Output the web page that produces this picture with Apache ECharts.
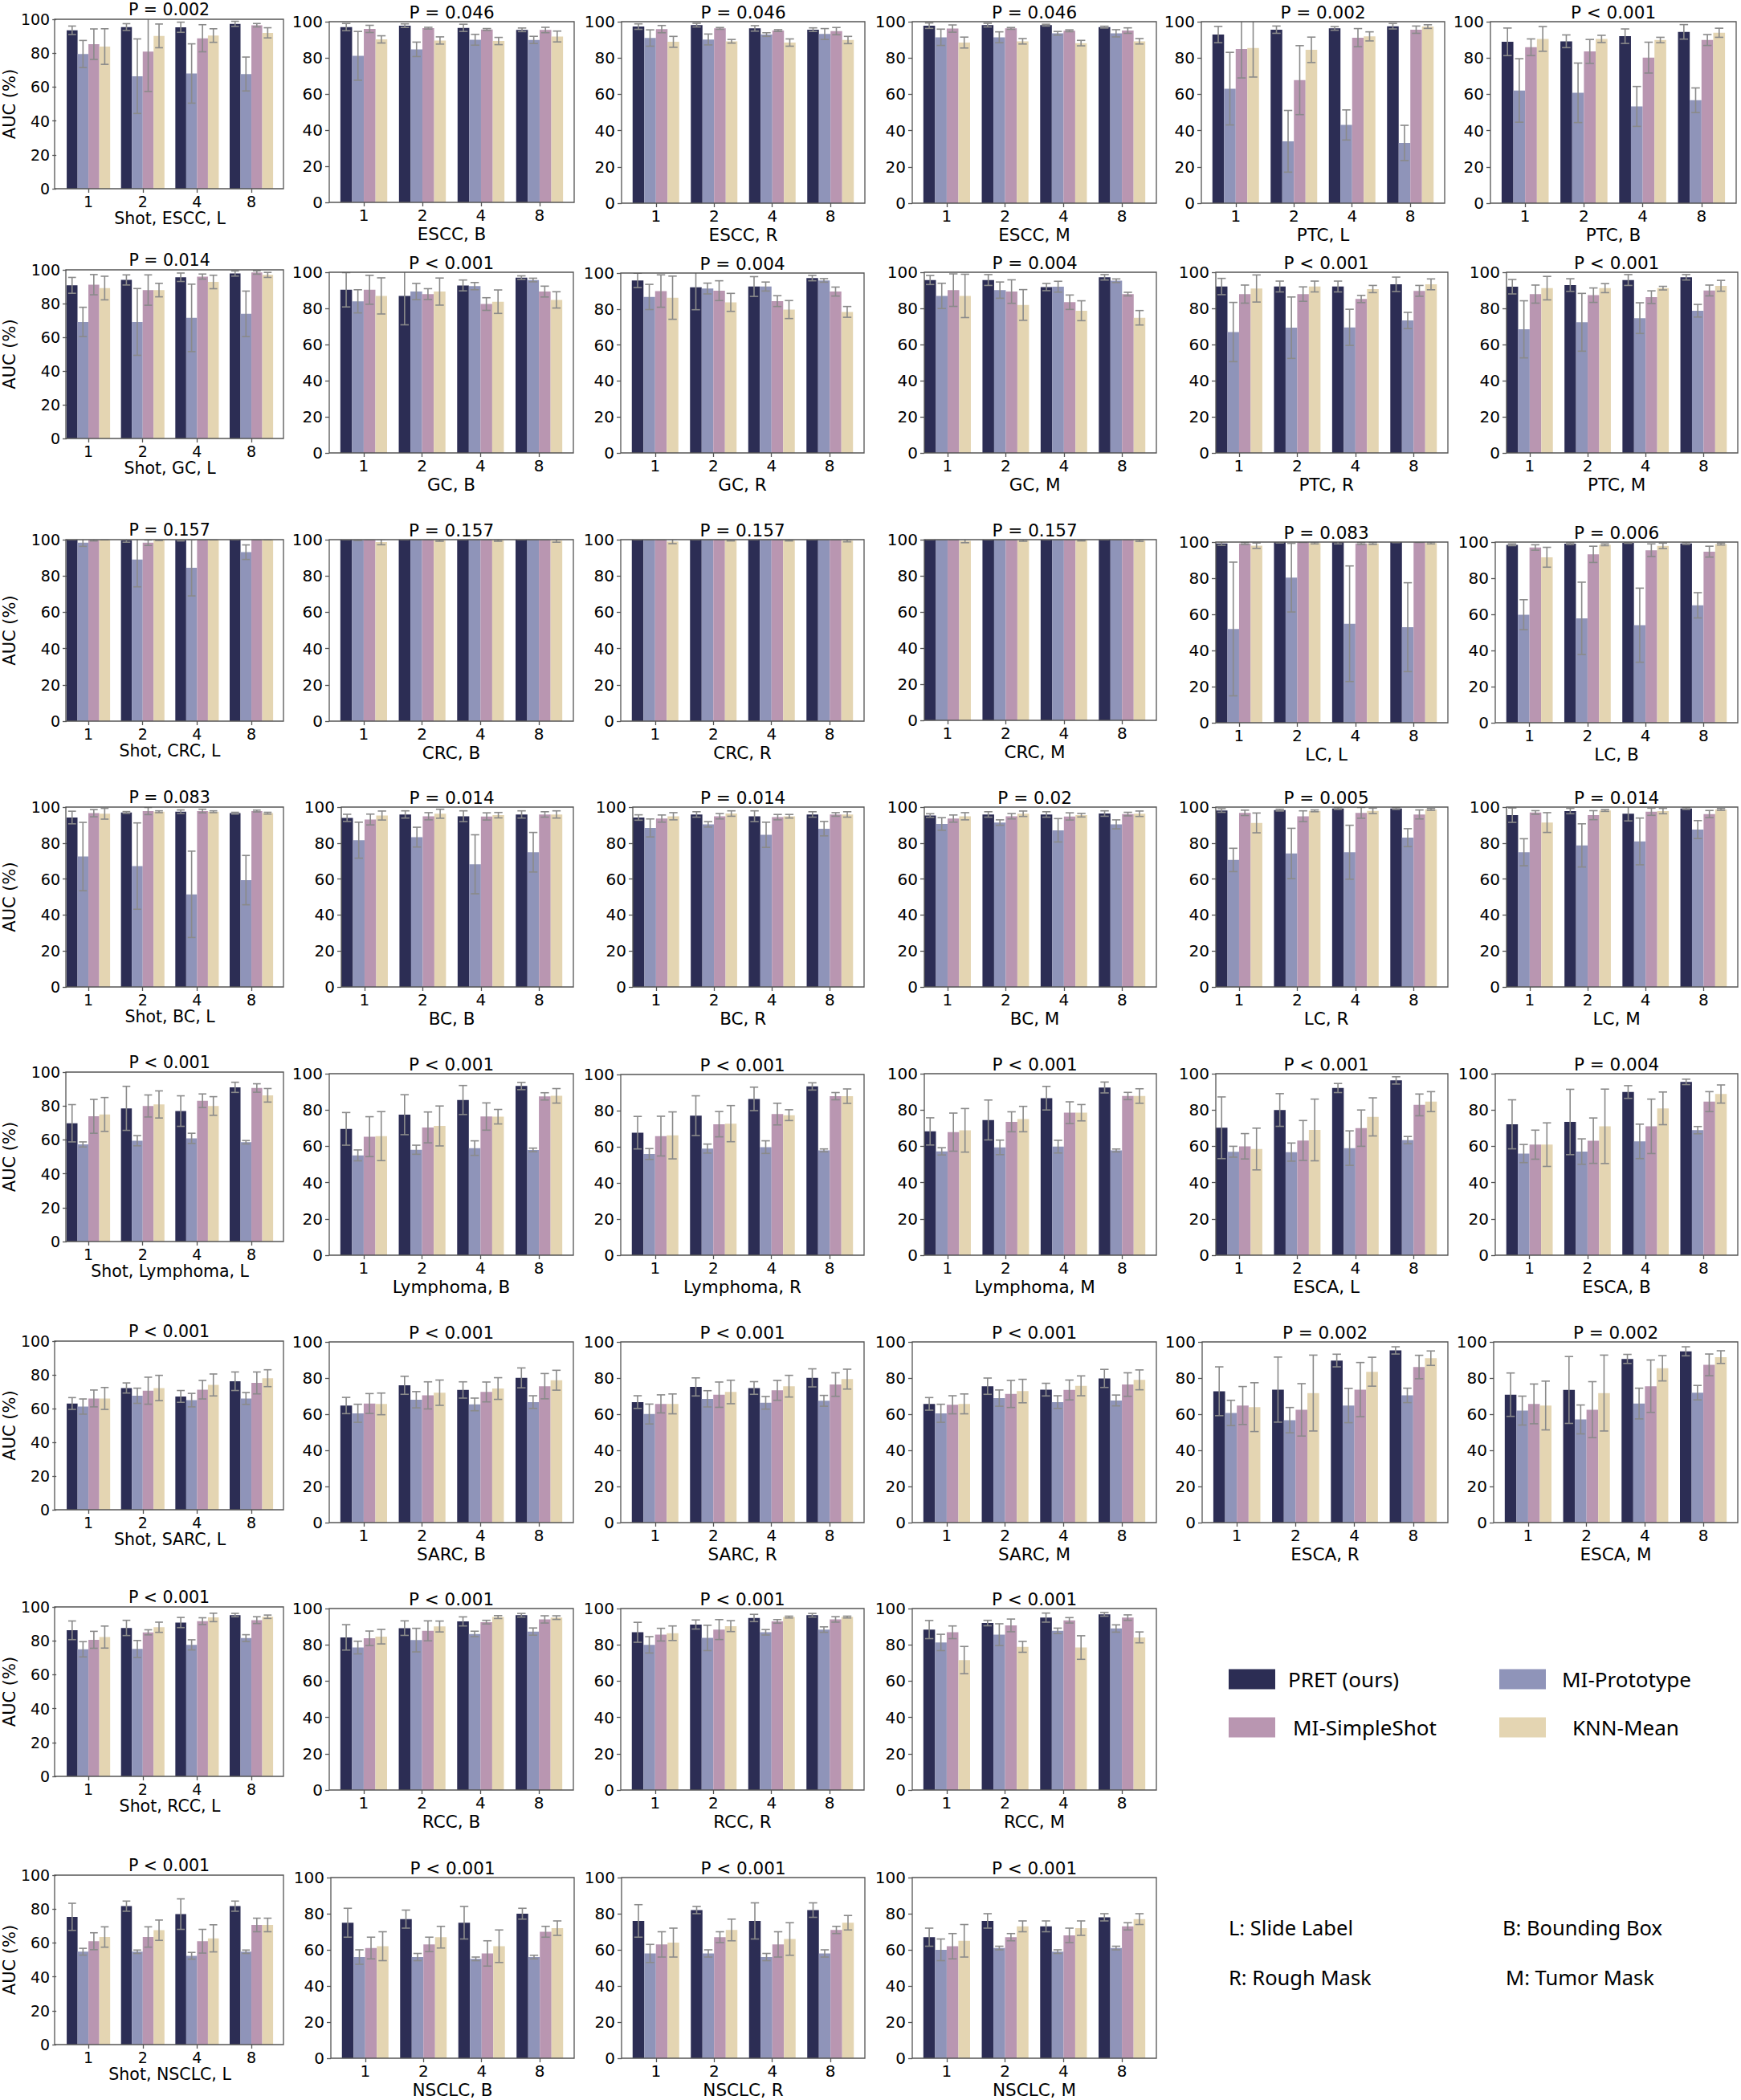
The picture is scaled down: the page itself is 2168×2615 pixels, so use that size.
<!DOCTYPE html>
<html><head><meta charset="utf-8">
<script src="https://cdn.jsdelivr.net/npm/echarts@6/dist/echarts.min.js"></script>
<style>html,body{margin:0;padding:0;background:#fff}#c{width:2168px;height:2615px}</style>
</head><body><div id="c"></div><script>
// ---------- categories / series names ----------
const shots = ['1', '2', '4', '8'];
const methods = ['PRET (ours)', 'MI-Prototype', 'MI-SimpleShot', 'KNN-Mean'];
// ---------- values: rows = methods (PRET, MI-Prototype, MI-SimpleShot, KNN-Mean), cols = shots ----------
const ESCC_L_mean = [[93.5,95.4,95.3,97.3],[79.5,66.4,68,67.7],[85.3,80.9,88.8,96.5],[83.9,90.2,90.4,92]];
const ESCC_L_sd   = [[2.5,2,3,1.5],[8,22,17.5,10],[9,23.5,8,1],[10.5,7,4,3]];
const ESCC_B_mean = [[97,97.8,96.6,95.5],[81.1,84.7,90,89.9],[96,96.4,95.7,95.4],[90.2,89.6,89.3,91.8]];
const ESCC_B_sd   = [[2,1,2,1],[13.5,4,3,2],[2,0.5,0.5,1.5],[2,2,2,3]];
const ESCC_R_mean = [[97.3,98.1,96.3,95.6],[91,90.2,92.9,93.2],[95.9,96.3,95.1,94.8],[88.9,89.2,88.5,89.9]];
const ESCC_R_sd   = [[1.5,1,1.5,1],[4.5,3,1,3],[2,0.5,0.5,2],[3,1,2,2]];
const ESCC_M_mean = [[97.8,98.1,98.1,97],[91.4,91.4,93.6,93.6],[96.2,96.3,95,95.1],[88.5,89.2,88.2,89.2]];
const ESCC_M_sd   = [[1.5,1,0.5,0.5],[4.5,3,1,2],[2,0.5,0.5,1.5],[3,1.5,1.5,1.5]];
const PTC_L_mean  = [[92.9,95.6,96.3,97.5],[63.1,34.1,43.1,33.2],[85,67.8,91.2,95.6],[85.5,84.5,91.9,97.3]];
const PTC_L_sd    = [[4.5,2,1,1.5],[20,17,8.3,9.7],[16,19,5,2],[16,7,2.5,1]];
const PTC_B_mean  = [[88.9,89.2,92,94.4],[62.1,60.8,53.3,56.7],[85.9,83.6,80.2,89.9],[90.5,90.5,89.9,93.9]];
const PTC_B_sd    = [[7.6,3.5,4,4],[17.5,16.4,11,6.8],[4.6,6.6,8.5,3],[6.8,2,1.5,2.5]];
const GC_L_mean   = [[90.8,94,95.6,97.8],[69.1,69.1,71.5,73.9],[91.2,88,96,98.4],[89.2,88,92.8,97]];
const GC_L_sd     = [[4.7,3,2.5,1.5],[8.7,19.8,20,13.5],[6,9,1.5,1],[7,4,4,1.5]];
const GC_B_mean   = [[90.3,86.9,92.7,97],[83.9,89.3,92.3,95.7],[90.3,87.9,82.4,89.3],[86.9,89.3,83.7,84.7]];
const GC_B_sd     = [[9.5,16,3,1],[6.4,4.5,2,1],[8,3,3.5,3],[10,7.5,6.5,4.5]];
const GC_R_mean   = [[95.9,92.1,92.5,97.2],[86.7,91.4,92.5,95.9],[90,90.2,84.4,89.7],[86.3,83.7,79.7,78.4]];
const GC_R_sd     = [[4,12.5,5.5,1.5],[7,3,2.5,1],[9,5.5,3,2.5],[12,5,5,3]];
const GC_M_mean   = [[95.7,95.7,91.8,97.2],[86.9,90.1,92,95.3],[90.1,89.3,83.4,87.9],[86.9,81.9,78.7,74.8]];
const GC_M_sd     = [[2.5,3,2,1.5],[7,4.5,3,1],[9,6.5,4,1],[12,8.5,5.5,4]];
const PTC_R_mean  = [[92.1,92.1,92.1,93.3],[66.9,69.3,69.5,73.3],[87.9,87.9,85.2,89.7],[91,92.1,90.7,93.3]];
const PTC_R_sd    = [[4.5,3,3,4],[16.4,17,10,4.5],[5,4,2,3],[7.5,3,2,3]];
const PTC_M_mean  = [[92,92.9,95.7,97.2],[68.4,72.3,74.6,78.7],[87.9,87.3,86.2,89.9],[91.2,91.2,91.2,92.5]];
const PTC_M_sd    = [[4,3.5,3,1.5],[15.8,16,8.5,3.5],[5,4,3.5,3],[6.5,2.5,1,3]];
const CRC_L_mean  = [[100,99.6,99.8,100],[98.3,89,84.5,93.1],[99.8,98.3,100,100],[100,100,100,100]];
const CRC_L_sd    = [[0,1,0.5,0],[2,15,15.5,4],[0.5,1.5,0,0],[0,0.5,0,0]];
const CRC_B_mean  = [[100,100,100,100],[99.8,100,100,100],[100,100,100,100],[98.7,99.6,99.6,99.4]];
const CRC_B_sd    = [[0,0,0,0],[0.3,0,0,0],[0,0,0,0],[1.5,0.5,0.5,0.8]];
const CRC_R_mean  = [[100,100,100,100],[100,100,100,100],[100,100,100,100],[99,99.7,99.7,99.4]];
const CRC_R_sd    = [[0,0,0,0],[0,0,0,0],[0,0,0,0],[1.2,0.4,0.4,0.6]];
const CRC_M_mean  = [[100,100,100,100],[100,100,100,100],[100,100,100,100],[99.3,99.6,99.7,99.5]];
const CRC_M_sd    = [[0,0,0,0],[0,0,0,0],[0,0,0,0],[1,0.5,0.4,0.5]];
const LC_L_mean   = [[99.2,100,100,100],[51.9,80.3,54.8,52.9],[99.2,100,99.2,100],[98,99.5,99.2,99.5]];
const LC_L_sd     = [[1,0.5,1,0.3],[37,19,32,24.6],[0.5,0.2,0.5,0.2],[1.5,0.5,0.5,0.5]];
const LC_B_mean   = [[98.5,99.1,99.6,99.2],[59.8,57.8,54,65],[97,93.2,95.5,94.7],[91.6,98.5,97.9,98.9]];
const LC_B_sd     = [[0.5,0.5,0.3,0.5],[8.3,20,20.5,7],[1.5,4.5,3.5,3],[5.5,0.5,1.5,0.5]];
const BC_L_mean   = [[94.2,97,97.4,96.6],[72.5,67.2,51.5,59.4],[96.6,97.8,97.8,97.8],[96.3,97.4,97.4,96.6]];
const BC_L_sd     = [[3.5,0.5,1,0.5],[19,24,24,13.7],[2,2,1,0.5],[3,0.5,0.5,0.5]];
const BC_B_mean   = [[94,95.9,94.9,95.9],[81.6,83.3,68.2,74.9],[93.1,94.9,94.8,95.9],[95.3,96.3,95.5,95.9]];
const BC_B_sd     = [[2,2,3,2],[10,5.5,16.4,11],[3,2,2,1.5],[2.5,2.5,1.5,2]];
const BC_R_mean   = [[94.2,95.9,94.9,95.9],[88.4,90.4,84.6,88],[93.6,94.9,94.4,95.9],[94.9,96.4,94.9,95.9]];
const BC_R_sd     = [[1.5,1.5,3,1.5],[5,1.5,7,4],[2,1.5,1.5,1],[2,1.5,1,1.5]];
const BC_M_mean   = [[95.3,95.9,95.9,96.4],[90.6,91.4,87.1,90.4],[93.6,94.9,94.8,96.1],[94.9,96.3,95.5,96.3]];
const BC_M_sd     = [[1,1.5,1.5,1.5],[3.5,1.5,6.5,2.5],[2,1.5,2,1],[2,1.5,1,1.5]];
const LC_R_mean   = [[98.1,98.3,99.2,99.2],[70.6,74.2,74.9,83],[96.8,94.9,96.8,95.9],[91.2,97.9,97.9,98.7]];
const LC_R_sd     = [[1,0.5,0.5,0.5],[6.5,14,15,5],[1.5,3,3,2.5],[5.5,0.5,1.5,0.5]];
const LC_M_mean   = [[95.5,97.8,96.3,99.2],[74.9,78.7,80.9,87.5],[97,95.5,97.4,96.1],[91.4,98.1,97.8,98.7]];
const LC_M_sd     = [[4,1.5,4,0.5],[7.5,12,13,5],[1,2.5,2,2],[5.5,0.5,1.5,0.5]];
const LYM_L_mean  = [[69.8,78.6,77,91],[57.3,59.5,60.9,58.6],[73.9,80,83.1,90.6],[75,80.9,80,86.3]];
const LYM_L_sd    = [[11,13,9,3],[1.5,3,3,1],[10,6.5,4,2.5],[10,8,5.5,4]];
const LYM_B_mean  = [[69.6,77.4,85.5,93.2],[55,58.1,59,58],[65.3,70.4,76.4,87.5],[65.6,71.2,76.3,87.8]];
const LYM_B_sd    = [[9,11,8,2],[3,2.5,4,1],[11,8.5,7.5,2],[13.5,11,4,4]];
const LYM_R_mean  = [[67.8,77.2,86.5,93.4],[56,59,59.8,58],[65.9,72.5,78.1,88],[66.3,72.8,77.5,88]];
const LYM_R_sd    = [[9,11,6.5,2],[3,2.5,3.5,0.8],[11,7,6,2],[13,10,3,4]];
const LYM_M_mean  = [[68.2,74.5,86.5,92.4],[57.2,59.4,59.8,57.7],[67.8,73.5,78.5,87.7],[68.8,75,78.5,87.7]];
const LYM_M_sd    = [[7.5,11,6.5,3],[2,4,3.5,0.8],[10.5,5.5,6,2],[12,7,4.5,4]];
const ESCA_L_mean = [[70.2,80,92.1,96.3],[57,56.8,59,63.4],[60,63.2,70,82.8],[58.5,69,76.2,84.6]];
const ESCA_L_sd   = [[17,9,2.5,2],[3,5,9.5,2],[7,11,10,6],[11.5,17,10.5,5.5]];
const ESCA_B_mean = [[72.1,73.4,89.9,95.5],[56,57.1,62.7,68.9],[60.9,63.1,71,84.6],[60.9,71,80.9,88.8]];
const ESCA_B_sd   = [[13.5,18,3.5,1.5],[5,7,9.5,2],[8,12.5,15,5.5],[12,20.5,9,5]];
const SARC_L_mean = [[63,72.2,67.2,76.2],[61.2,67.6,65,66],[66,70.6,71.2,75.2],[66,72.2,74,78]];
const SARC_L_sd   = [[3.5,3,3.5,5.5],[4.5,4.5,4,3.5],[5,8,5.5,6.5],[6.5,7.5,6.5,5]];
const SARC_B_mean = [[64.8,76,73.4,80.1],[60.5,68,65.4,66.7],[65.9,70.4,72.3,75.5],[65.7,71.9,74.2,78.8]];
const SARC_B_sd   = [[4.5,5,4.5,5.5],[5,4.5,3.5,3.5],[5.5,7.5,5.5,7],[6,7,6,5.5]];
const SARC_R_mean = [[66.7,75.1,74.5,80.1],[60.1,68.5,66.3,67.4],[65.7,70.8,73.2,76.4],[65.7,72.3,75.5,79.4]];
const SARC_R_sd   = [[3.5,5,3.5,5],[5.5,4.5,3.5,3],[5,7,5.5,6.5],[5.5,6.5,6,5.5]];
const SARC_M_mean = [[65.7,75.5,73.6,79.8],[60.5,68.9,66.7,67.6],[65.2,71.2,73.4,76.4],[65.7,72.8,75.7,79]];
const SARC_M_sd   = [[3.5,4.5,3.5,5],[5,4.5,3.5,3],[5,7.5,5.5,6.5],[5.5,6.5,5.5,5.5]];
const ESCA_R_mean = [[72.7,73.6,89.7,95.3],[60.7,56.7,64.8,70.4],[64.8,62.4,73.6,86.1],[63.9,71.7,83.5,91]];
const ESCA_R_sd   = [[13.5,18,3.5,2],[7,7,9.5,4],[10.5,14.5,15,6.5],[13.5,21,8,4]];
const ESCA_M_mean = [[70.8,73.4,90.6,94.8],[62,57.1,65.9,71.9],[65.7,62.5,75.5,87.3],[64.8,71.7,85.4,91.6]];
const ESCA_M_sd   = [[12,18.5,2.5,2.5],[8,8,8.5,4],[11,15.5,14.5,6],[13.5,21,7,3.5]];
const RCC_L_mean  = [[86.2,87.6,90.8,95.2],[75,75.2,77.6,81.6],[80.6,85,91.6,92.2],[82.2,88,93.8,94.2]];
const RCC_L_sd    = [[5.5,4.5,3,1],[4.5,5,3,2],[5,1.5,2,2],[6.5,3,2.5,1]];
const RCC_B_mean  = [[84.1,89.2,92.9,96.3],[78.5,82.6,86,87.3],[83.6,87.7,92.5,94],[84.5,90.1,95.3,95]];
const RCC_B_sd    = [[7,4,2.5,1],[3.5,6.5,1.5,2],[4,5.5,1,2],[4,3,0.8,1]];
const RCC_R_mean  = [[86.9,91.2,94.8,96.3],[80,83.8,86.9,88.4],[85.6,88.4,92.9,94],[86.4,90.3,95.3,95.3]];
const RCC_R_sd    = [[5.5,2.5,2,1],[4.5,7,1.5,1.5],[3.5,5.5,1,1.5],[4,3,0.5,0.5]];
const RCC_M_mean  = [[88.4,92,95,96.8],[81.3,85.6,87.7,89],[86.9,90.7,93.5,95],[71.6,78.9,78.5,84.1]];
const RCC_M_sd    = [[5,1.5,2.5,1],[4.5,6,1.5,2],[3.5,3.5,1.5,1.5],[7.5,3,6.5,3]];
const NSCLC_L_mean = [[75.4,81.7,77,81.7],[54.8,54.8,52.4,54.8],[61,63.5,61,70.6],[63.5,67.5,62.7,70.6]];
const NSCLC_L_sd   = [[8,3,9,3],[2,1,2,1],[5,6,7,4],[6,6,8,4]];
const NSCLC_B_mean = [[75,77,75,80],[56,56,55,56],[61,63,58,70],[62,67,62,72]];
const NSCLC_B_sd   = [[8,5,9,3],[4,2,1,1],[6,4,7,3],[8,6,9,4]];
const NSCLC_R_mean = [[76,82,76,82],[58,58,56,58],[63,67,63,71],[64,71,66,75]];
const NSCLC_R_sd   = [[9,2,10,4],[5,2,2,2],[7,3,7,2],[8,6,9,4]];
const NSCLC_M_mean = [[67,76,73,78],[60,61,59,61],[62,67,68,73],[65,73,72,77]];
const NSCLC_M_sd   = [[5,4,3,2],[6,1,1,1],[7,2,4,2],[9,3,4,3]];

// ---------- panel texts (x-axis label, P value) ----------
const panelLabels = [
  'Shot, ESCC, L','ESCC, B','ESCC, R','ESCC, M','PTC, L','PTC, B',
  'Shot, GC, L','GC, B','GC, R','GC, M','PTC, R','PTC, M',
  'Shot, CRC, L','CRC, B','CRC, R','CRC, M','LC, L','LC, B',
  'Shot, BC, L','BC, B','BC, R','BC, M','LC, R','LC, M',
  'Shot, Lymphoma, L','Lymphoma, B','Lymphoma, R','Lymphoma, M','ESCA, L','ESCA, B',
  'Shot, SARC, L','SARC, B','SARC, R','SARC, M','ESCA, R','ESCA, M',
  'Shot, RCC, L','RCC, B','RCC, R','RCC, M',
  'Shot, NSCLC, L','NSCLC, B','NSCLC, R','NSCLC, M'
];
const pTexts = [
  'P = 0.002','P = 0.046','P = 0.046','P = 0.046','P = 0.002','P < 0.001',
  'P = 0.014','P < 0.001','P = 0.004','P = 0.004','P < 0.001','P < 0.001',
  'P = 0.157','P = 0.157','P = 0.157','P = 0.157','P = 0.083','P = 0.006',
  'P = 0.083','P = 0.014','P = 0.014','P = 0.02','P = 0.005','P = 0.014',
  'P < 0.001','P < 0.001','P < 0.001','P < 0.001','P < 0.001','P = 0.004',
  'P < 0.001','P < 0.001','P < 0.001','P < 0.001','P = 0.002','P = 0.002',
  'P < 0.001','P < 0.001','P < 0.001','P < 0.001',
  'P < 0.001','P < 0.001','P < 0.001','P < 0.001'
];
const panelMeans = [ESCC_L_mean,ESCC_B_mean,ESCC_R_mean,ESCC_M_mean,PTC_L_mean,PTC_B_mean,
  GC_L_mean,GC_B_mean,GC_R_mean,GC_M_mean,PTC_R_mean,PTC_M_mean,
  CRC_L_mean,CRC_B_mean,CRC_R_mean,CRC_M_mean,LC_L_mean,LC_B_mean,
  BC_L_mean,BC_B_mean,BC_R_mean,BC_M_mean,LC_R_mean,LC_M_mean,
  LYM_L_mean,LYM_B_mean,LYM_R_mean,LYM_M_mean,ESCA_L_mean,ESCA_B_mean,
  SARC_L_mean,SARC_B_mean,SARC_R_mean,SARC_M_mean,ESCA_R_mean,ESCA_M_mean,
  RCC_L_mean,RCC_B_mean,RCC_R_mean,RCC_M_mean,
  NSCLC_L_mean,NSCLC_B_mean,NSCLC_R_mean,NSCLC_M_mean];
const panelSds = [ESCC_L_sd,ESCC_B_sd,ESCC_R_sd,ESCC_M_sd,PTC_L_sd,PTC_B_sd,
  GC_L_sd,GC_B_sd,GC_R_sd,GC_M_sd,PTC_R_sd,PTC_M_sd,
  CRC_L_sd,CRC_B_sd,CRC_R_sd,CRC_M_sd,LC_L_sd,LC_B_sd,
  BC_L_sd,BC_B_sd,BC_R_sd,BC_M_sd,LC_R_sd,LC_M_sd,
  LYM_L_sd,LYM_B_sd,LYM_R_sd,LYM_M_sd,ESCA_L_sd,ESCA_B_sd,
  SARC_L_sd,SARC_B_sd,SARC_R_sd,SARC_M_sd,ESCA_R_sd,ESCA_M_sd,
  RCC_L_sd,RCC_B_sd,RCC_R_sd,RCC_M_sd,
  NSCLC_L_sd,NSCLC_B_sd,NSCLC_R_sd,NSCLC_M_sd];
const legendNotes = ['L: Slide Label','B: Bounding Box','R: Rough Mask','M: Tumor Mask'];

// ---------- layout (frame boxes: left, top, right, bottom in px) ----------
const boxes = [
 [68,24,353,235],[410,27,715,252],[774,27,1077,253],[1136,27,1440,253],[1496,27,1799,253],[1856,27,2162,253],
 [82,336,353,546],[410,339,714,564],[773,340,1076,564],[1151,339,1440,564],[1514,339,1803,564],[1876,339,2164,564],
 [82,672,353,898],[410,672,714,898],[773,672,1076,898],[1151,672,1440,897],[1514,675,1803,900],[1862,675,2164,900],
 [82,1005,353,1229],[425,1005,714,1229],[788,1005,1076,1229],[1151,1005,1440,1229],[1514,1005,1803,1229],[1876,1005,2164,1229],
 [82,1335,353,1546],[410,1337,714,1563],[773,1338,1076,1563],[1151,1337,1440,1563],[1514,1337,1803,1563],[1862,1337,2164,1563],
 [68,1670,353,1880],[410,1671,714,1896],[773,1671,1076,1896],[1136,1671,1440,1896],[1497,1671,1803,1896],[1860,1671,2164,1896],
 [68,2001,353,2212],[410,2003,714,2229],[773,2003,1076,2229],[1136,2003,1440,2229],
 [68,2335,353,2546],[412,2338,715,2563],[774,2338,1077,2563],[1136,2338,1440,2563]
];
// panels whose left margin is cut off in the original figure
const croppedLeft = [6,9,10,11,12,15,16,18,19,20,21,22,23,24,27,28];
const firstCol = [0,6,12,18,24,30,36,40];
const methodColors = ['#2c2d54','#8f94b9','#b996b1','#e4d5b2'];
const axisColor = '#555555';
const FONT = '"DejaVu Sans", sans-serif';

function errRender(params, api) {
  const c = api.value(0), m = api.value(1), mean = api.value(2), e = api.value(3);
  const band = api.size([1, 0])[0];
  const bw = band * 0.8 / 4;
  const base = api.coord([c, mean]);
  const x = base[0] - band * 0.4 + (m + 0.5) * bw;
  const yHi = api.coord([c, mean + e])[1];
  const yLo = api.coord([c, mean - e])[1];
  const cw = bw * 0.36;
  const st = { stroke: '#8a8a8a', lineWidth: 1.6 };
  return { type: 'group', children: [
    { type: 'line', shape: { x1: x, y1: yHi, x2: x, y2: yLo }, style: st },
    { type: 'line', shape: { x1: x - cw, y1: yHi, x2: x + cw, y2: yHi }, style: st },
    { type: 'line', shape: { x1: x - cw, y1: yLo, x2: x + cw, y2: yLo }, style: st }
  ]};
}

const grids = [], xAxes = [], yAxes = [], series = [], graphics = [];
panelLabels.forEach((label, i) => {
  const [l, t, r, b] = boxes[i];
  const first = firstCol.includes(i);
  const tick = first ? 19 : 20;
  const nameSize = first ? 20.5 : 21.5;
  // matplotlib-like x limits in category units
  const xlim = croppedLeft.includes(i) ? [-0.4, 3.59] : [-0.59, 3.59];
  const unit = (r - l) / (xlim[1] - xlim[0]);
  const gl = l + (-0.5 - xlim[0]) * unit;
  const gw = 4 * unit;
  grids.push({ left: gl, top: t, width: gw, height: b - t, show: false });
  xAxes.push({ gridIndex: i, type: 'category', data: shots, boundaryGap: true,
    axisLine: { show: false },
    axisTick: { show: true, alignWithLabel: true, length: 5, lineStyle: { color: axisColor, width: 1.3 } },
    axisLabel: { color: '#000', fontSize: tick, fontFamily: FONT, margin: 6 },
    name: label, nameLocation: 'middle', nameGap: first ? 26 : 28,
    nameTextStyle: { color: '#000', fontSize: nameSize, fontFamily: FONT } });
  yAxes.push({ gridIndex: i, type: 'value', min: 0, max: 100, interval: 20, offset: gl - l,
    axisLine: { show: false },
    axisTick: { show: true, length: 5, lineStyle: { color: axisColor, width: 1.3 } },
    splitLine: { show: false },
    axisLabel: { color: '#000', fontSize: tick, fontFamily: FONT, margin: 8 },
    name: first ? 'AUC (%)' : '', nameLocation: 'middle', nameGap: l - 21,
    nameTextStyle: { color: '#000', fontSize: 21, fontFamily: FONT } });
  const means = panelMeans[i], sds = panelSds[i];
  methods.forEach((m, k) => {
    series.push({ type: 'bar', name: m, xAxisIndex: i, yAxisIndex: i, data: means[k],
      itemStyle: { color: methodColors[k] }, barGap: '0%', barCategoryGap: '20%', silent: true });
  });
  const errData = [];
  for (let k = 0; k < 4; k++) for (let c = 0; c < 4; c++) errData.push([c, k, means[k][c], sds[k][c]]);
  series.push({ type: 'custom', xAxisIndex: i, yAxisIndex: i, clip: true, silent: true, z: 5,
    data: errData, encode: { x: 0, y: 2 }, renderItem: errRender });
  // axes frame (all four spines)
  graphics.push({ type: 'rect', silent: true, z: 50,
    shape: { x: l, y: t, width: r - l, height: b - t },
    style: { fill: 'none', stroke: axisColor, lineWidth: 1.3 } });
  graphics.push({ type: 'text', x: gl + gw / 2, y: t - 12, silent: true,
    style: { text: pTexts[i], fill: '#000', font: `${nameSize}px ${FONT}`,
      textAlign: 'center', textVerticalAlign: 'middle', align: 'center', verticalAlign: 'middle' } });
});

const notePos = [[1530, 2400], [1871, 2400], [1530, 2462], [1875, 2462]];
legendNotes.forEach((txt, k) => {
  graphics.push({ type: 'text', x: notePos[k][0], y: notePos[k][1], silent: true,
    style: { text: txt, fill: '#000', font: '25.5px "Noto Sans", sans-serif',
      textAlign: 'left', textVerticalAlign: 'middle', align: 'left', verticalAlign: 'middle' } });
});

const legendPos = [[1530, 2081, 11], [1867, 2081, 15], [1530, 2141, 17], [1867, 2141, 28]];
const legends = methods.map((m, k) => ({
  data: [m], left: legendPos[k][0], top: legendPos[k][1] - 3, padding: 0,
  itemWidth: 58, itemHeight: 25, icon: 'rect', selectedMode: false,
  textStyle: { fontSize: 26, fontFamily: '"Noto Sans", sans-serif', color: '#000',
    padding: [0, 0, 0, legendPos[k][2]] }
}));

const chart = echarts.init(document.getElementById('c'), null, { renderer: 'svg', width: 2168, height: 2615 });
chart.setOption({
  animation: false,
  backgroundColor: '#ffffff',
  grid: grids, xAxis: xAxes, yAxis: yAxes, series: series,
  legend: legends, graphic: graphics
});
</script></body></html>
